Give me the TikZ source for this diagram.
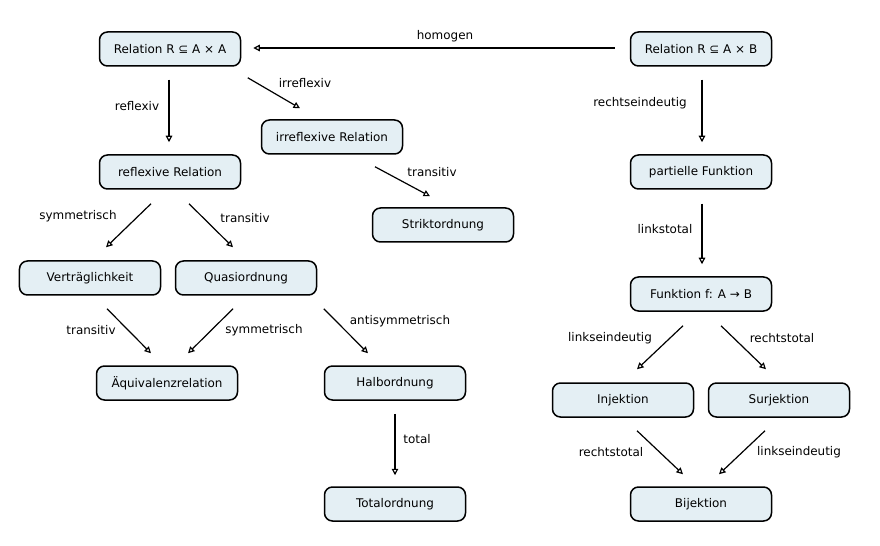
\documentclass[tikz,border=0pt]{standalone}
\usepackage{fontspec}
\setmainfont{DejaVu Sans}
\usepackage{xcolor}
\usepackage{tikz}
\usetikzlibrary{arrows.meta,positioning,calc}
\definecolor{conceptfill}{HTML}{E4EFF4}

\begin{document}
\begin{tikzpicture}[x=1bp, y=-1bp, font=\fontsize{12}{14}\selectfont]
  \tikzstyle{concept}=[draw, line width=1.5bp, rounded corners=8bp, fill=conceptfill, minimum width=141bp, minimum height=34bp, inner sep=0pt]
  \tikzstyle{phrase}=[inner sep=1bp]
  \tikzstyle{link}=[line width=1.2bp, -{Triangle[open, length=6.5bp, width=6.5bp]}]
  \useasboundingbox (0,0) rectangle (880,546);
  % concepts
  \node[concept] (relAA) at (170,49) {Relation R ⊆ A × A};
  \node[concept] (relAB) at (701,49) {Relation R ⊆ A × B};
  \node[concept] (irrefl) at (332,137) {irreflexive Relation};
  \node[concept] (refl) at (170,172) {reflexive Relation};
  \node[concept] (strikt) at (443,225) {Striktordnung};
  \node[concept] (partiell) at (701,172) {partielle Funktion};
  \node[concept] (vertr) at (90,278) {Verträglichkeit};
  \node[concept] (quasi) at (246,278) {Quasiordnung};
  \node[concept] (aequiv) at (167,383) {Äquivalenzrelation};
  \node[concept] (halb) at (395,383) {Halbordnung};
  \node[concept] (totalord) at (395,504) {Totalordnung};
  \node[concept] (funk) at (701,294) {Funktion f: A → B};
  \node[concept] (inj) at (623,400) {Injektion};
  \node[concept] (surj) at (779,400) {Surjektion};
  \node[concept] (bij) at (701,504) {Bijektion};
  % linking phrases
  \node[phrase] (homogen) at (445,36) {homogen};
  \node[phrase] (reflexiv) at (137,106) {reflexiv};
  \node[phrase] (irreflexiv) at (305,83) {irreflexiv};
  \node[phrase] (transA) at (432,172) {transitiv};
  \node[phrase] (rechtseind) at (640,103) {rechtseindeutig};
  \node[phrase] (linkstot) at (665,229) {linkstotal};
  \node[phrase] (symmA) at (78,216) {symmetrisch};
  \node[phrase] (transB) at (245,218) {transitiv};
  \node[phrase] (transC) at (91,330) {transitiv};
  \node[phrase] (symmB) at (264,330) {symmetrisch};
  \node[phrase] (antisymm) at (400,321) {antisymmetrisch};
  \node[phrase] (totallab) at (417,439) {total};
  \node[phrase] (linkseindA) at (610,338) {linkseindeutig};
  \node[phrase] (rechtstotA) at (782,338) {rechtstotal};
  \node[phrase] (rechtstotB) at (611,452) {rechtstotal};
  \node[phrase] (linkseindB) at (799,452) {linkseindeutig};
  % links
  \draw[link] ($(relAB.west)+(-15,-1)$) -- ($(relAA.east)+(12,-1)$);
  \draw[link] ($(relAA.south)+(-1,13)$) -- ($(refl.north)+(-1,-12)$);
  \draw[link] ($(relAA.south east)+(6.5,11)$) -- ($(irrefl.north)+(-32,-11)$);
  \draw[link] ($(irrefl.south)+(43,12)$) -- ($(strikt.north)+(-13,-11)$);
  \draw[link] ($(relAB.south)+(1,13)$) -- ($(partiell.north)+(1,-12)$);
  \draw[link] ($(partiell.south)+(1,14)$) -- ($(funk.north)+(1,-12)$);
  \draw[link] ($(refl.south)+(-19,14)$) -- ($(vertr.north)+(16,-13)$);
  \draw[link] ($(refl.south)+(19,14)$) -- ($(quasi.north)+(-13,-13)$);
  \draw[link] ($(vertr.south)+(17,13)$) -- ($(aequiv.north)+(-16,-12)$);
  \draw[link] ($(quasi.south)+(-13,13)$) -- ($(aequiv.north)+(21,-12)$);
  \draw[link] ($(quasi.south east)+(6.5,13)$) -- ($(halb.north)+(-27,-12)$);
  \draw[link] ($(halb.south)+(0,13)$) -- ($(totalord.north)+(0,-11)$);
  \draw[link] ($(funk.south)+(-18,14)$) -- ($(inj.north)+(14,-13)$);
  \draw[link] ($(funk.south)+(20,14)$) -- ($(surj.north)+(-13,-13)$);
  \draw[link] ($(inj.south)+(14,13)$) -- ($(bij.north)+(-18,-12)$);
  \draw[link] ($(surj.south)+(-14,13)$) -- ($(bij.north)+(18,-12)$);
\end{tikzpicture}
\end{document}
